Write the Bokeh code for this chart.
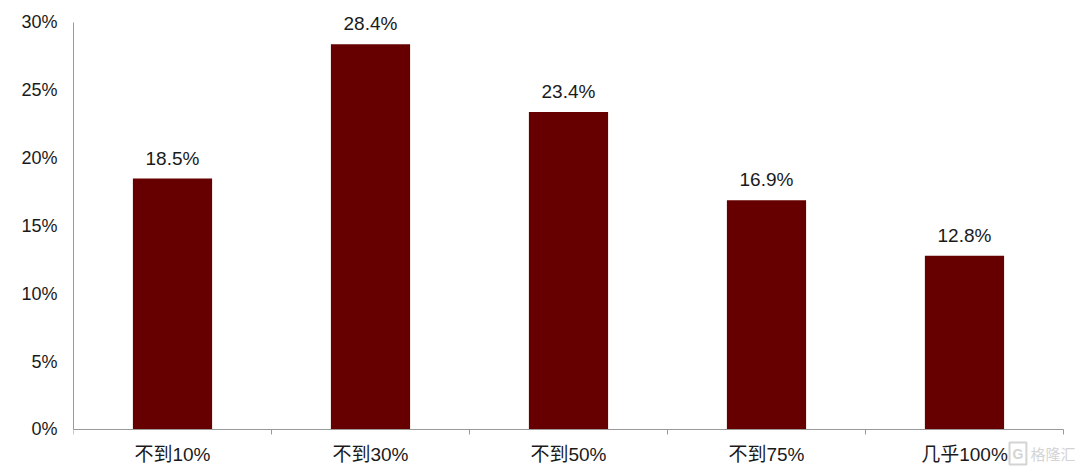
from bokeh.plotting import figure
from bokeh.models import ColumnDataSource, LabelSet, FixedTicker, PrintfTickFormatter, Range1d, Label
from bokeh.core.properties import value
from bokeh.embed import file_html
from bokeh.resources import INLINE

categories = ["不到10%", "不到30%", "不到50%", "不到75%", "几乎100%"]
values = [18.5, 28.4, 23.4, 16.9, 12.8]
y_ticks = [0, 5, 10, 15, 20, 25, 30]

xs = [i + 0.5 for i in range(len(categories))]
labels = [f"{v:.1f}%" for v in values]
src = ColumnDataSource(dict(x=xs, top=values, label=labels))

FONT = "'Liberation Sans', Arial, 'Noto Sans CJK SC'"
FS = "18px"
FS2 = "19px"
n = len(categories)

p = figure(width=1080, height=471, output_backend="svg", toolbar_location=None,
           x_range=Range1d(0, n + 0.0859), y_range=Range1d(-3.096, 31.474),
           min_border_left=73, min_border_right=0, min_border_top=2, min_border_bottom=0)
p.outline_line_color = None
p.grid.visible = False
p.background_fill_color = "white"
p.border_fill_color = "white"

p.vbar(x="x", top="top", width=0.4, bottom=0, source=src, fill_color="#660000", line_color=None)

p.add_layout(LabelSet(x="x", y="top", text="label", source=src, text_align="center",
                      text_baseline="bottom", y_offset=10, text_font=value(FONT),
                      text_font_size=FS2, text_color="#1a1a1a"))

# x axis, pinned at y=0 inside the frame
xa = p.xaxis[0]
xa.fixed_location = 0
xa.bounds = (0, n)
xa.ticker = FixedTicker(ticks=xs, minor_ticks=list(range(n + 1)))
xa.major_label_overrides = {x: c for x, c in zip(xs, categories)}
xa.major_tick_out = 0
xa.major_tick_in = 0
xa.minor_tick_out = 5
xa.minor_tick_in = 0
xa.minor_tick_line_color = "#999999"
xa.axis_line_color = "#999999"
xa.major_label_text_font = FONT
xa.major_label_text_font_size = FS2
xa.major_label_text_color = "#1a1a1a"
xa.major_label_standoff = 10

# y axis
ya = p.yaxis[0]
ya.bounds = (0, 30)
ya.ticker = FixedTicker(ticks=y_ticks)
ya.formatter = PrintfTickFormatter(format="%d%%")
ya.major_tick_out = 0
ya.major_tick_in = 0
ya.minor_tick_out = 0
ya.minor_tick_in = 0
ya.axis_line_color = "#999999"
ya.major_label_text_font = FONT
ya.major_label_text_font_size = FS
ya.major_label_text_color = "#1a1a1a"
ya.major_label_standoff = 16

# watermark (bottom-right)
p.add_layout(Label(x=936, y=18, x_units="screen", y_units="screen", text="G",
                   text_font="'Liberation Sans'", text_font_size="14px", text_font_style="bold",
                   text_baseline="middle", text_color="#d4d4d4",
                   border_line_color="#d4d4d4", border_line_width=2, padding=3))
p.add_layout(Label(x=957, y=18, x_units="screen", y_units="screen", text="格隆汇",
                   text_font="'Noto Sans CJK SC'", text_font_size="15px",
                   text_baseline="middle", text_color="#d4d4d4"))

open("out.html", "w").write(file_html(p, INLINE))
